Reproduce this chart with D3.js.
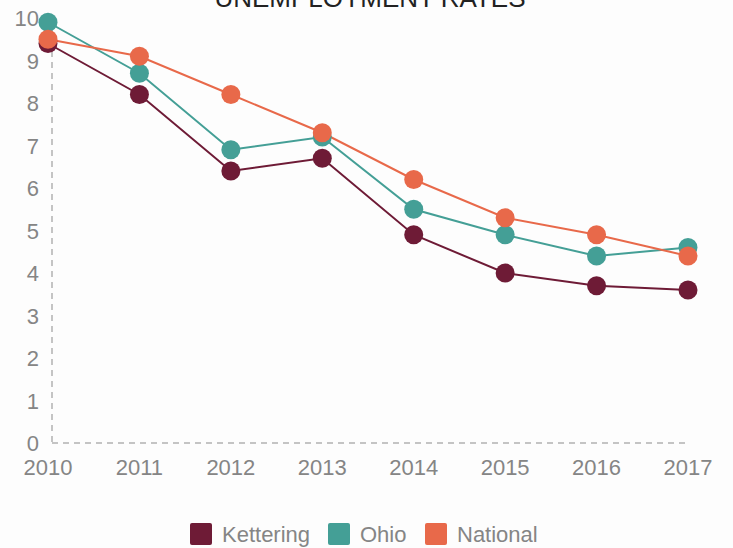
<!DOCTYPE html>
<html>
<head>
<meta charset="utf-8">
<script src="https://cdn.jsdelivr.net/npm/d3@7"></script>
<style>
  body { margin: 0; background: #fdfdfd; }
  svg { display: block; font-family: "Liberation Sans", Arial, sans-serif; }
</style>
</head>
<body>
<div id="chart"></div>
<script>
// data
const years = [2010, 2011, 2012, 2013, 2014, 2015, 2016, 2017];
const kettering = [9.4, 8.2, 6.4, 6.7, 4.9, 4.0, 3.7, 3.6];
const ohio = [9.9, 8.7, 6.9, 7.2, 5.5, 4.9, 4.4, 4.6];
const national = [9.5, 9.1, 8.2, 7.3, 6.2, 5.3, 4.9, 4.4];
const seriesNames = ["Kettering", "Ohio", "National"];
const seriesColors = ["#6e1b36", "#449f96", "#e8694a"];
const yTicks = [0, 1, 2, 3, 4, 5, 6, 7, 8, 9, 10];

const width = 733, height = 548;
const series = [kettering, ohio, national];

const svg = d3.select("#chart").append("svg")
  .attr("width", width)
  .attr("height", height);

const x = d3.scalePoint().domain(years).range([48, 688]);
const y = d3.scaleLinear().domain([0, 10]).range([443, 18]);

// title, mostly cut off above the frame (as in the original)
svg.append("text")
  .attr("x", 370)
  .attr("y", 7)
  .attr("text-anchor", "middle")
  .attr("font-size", 26)
  .attr("fill", "#222")
  .text("UNEMPLOYMENT RATES");

// axes (dashed)
svg.append("line")
  .attr("x1", 52).attr("x2", 52)
  .attr("y1", y(10)).attr("y2", y(0))
  .attr("stroke", "#c4c4c4").attr("stroke-width", 2)
  .attr("stroke-dasharray", "6,5");
svg.append("line")
  .attr("x1", 52).attr("x2", x(2017))
  .attr("y1", y(0)).attr("y2", y(0))
  .attr("stroke", "#c4c4c4").attr("stroke-width", 2)
  .attr("stroke-dasharray", "6,5");

svg.selectAll(".ytick")
  .data(yTicks)
  .join("text")
  .attr("class", "ytick")
  .attr("x", 39)
  .attr("y", d => y(d) + 8)
  .attr("text-anchor", "end")
  .attr("font-size", 22)
  .attr("fill", "#858585")
  .text(d => d);

svg.selectAll(".xtick")
  .data(years)
  .join("text")
  .attr("class", "xtick")
  .attr("x", d => x(d))
  .attr("y", 475)
  .attr("text-anchor", "middle")
  .attr("font-size", 22)
  .attr("fill", "#858585")
  .text(d => d);

const line = d3.line()
  .x((d, i) => x(years[i]))
  .y(d => y(d));

series.forEach((vals, s) => {
  svg.append("path")
    .datum(vals)
    .attr("d", line)
    .attr("fill", "none")
    .attr("stroke", seriesColors[s])
    .attr("stroke-width", 2);
});

series.forEach((vals, s) => {
  svg.selectAll(".dot" + s)
    .data(vals)
    .join("circle")
    .attr("class", "dot" + s)
    .attr("cx", (d, i) => x(years[i]))
    .attr("cy", d => y(d))
    .attr("r", 9.5)
    .attr("fill", seriesColors[s]);
});

// legend
const legendX = [190, 328, 425];
const legend = svg.selectAll(".legend")
  .data(seriesNames)
  .join("g")
  .attr("class", "legend")
  .attr("transform", (d, i) => `translate(${legendX[i]}, 523)`);
legend.append("rect")
  .attr("width", 22).attr("height", 22).attr("rx", 2)
  .attr("fill", (d, i) => seriesColors[i]);
legend.append("text")
  .attr("x", 32)
  .attr("y", 19)
  .attr("font-size", 22)
  .attr("fill", "#858585")
  .text(d => d);
</script>
</body>
</html>
